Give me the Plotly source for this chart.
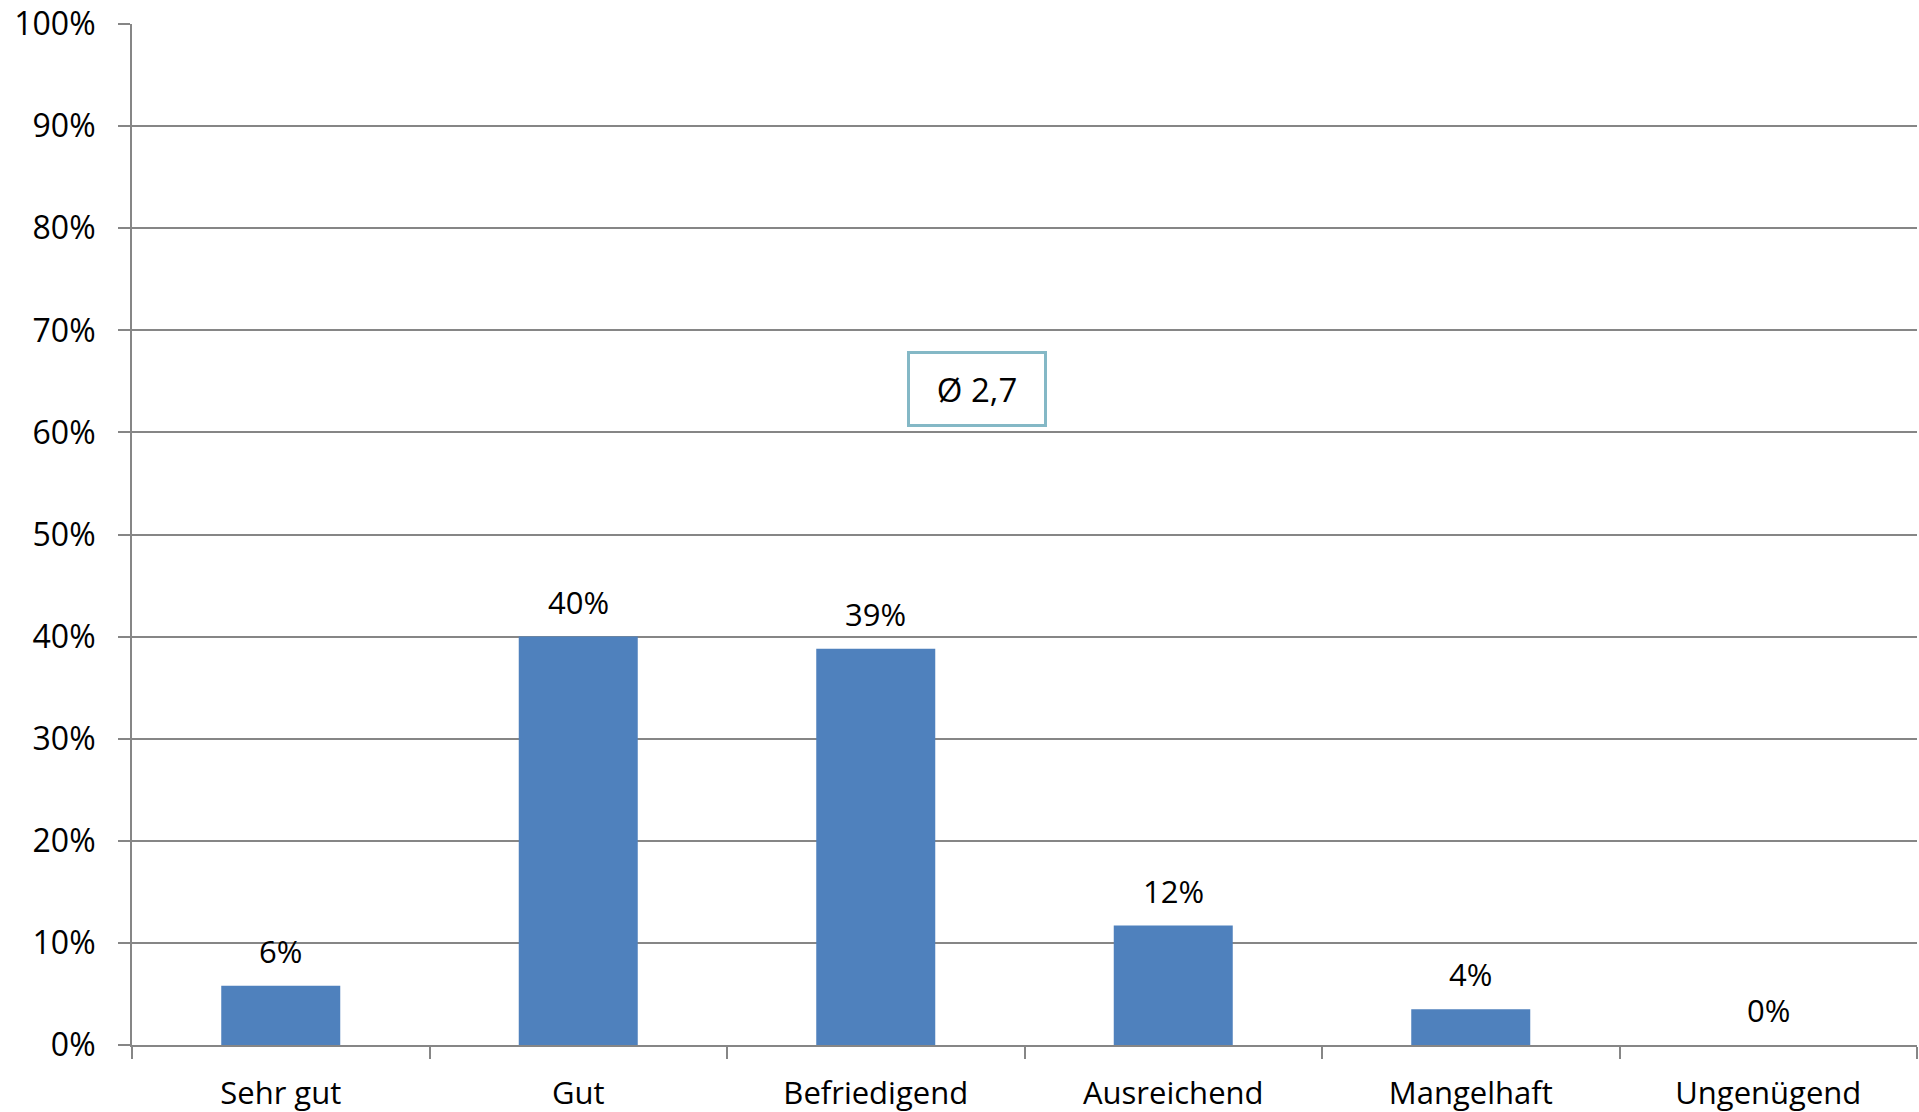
import plotly.graph_objects as go

categories = ["Sehr gut", "Gut", "Befriedigend", "Ausreichend", "Mangelhaft", "Ungenügend"]
values = [5.8, 40.0, 38.8, 11.7, 3.5, 0.0]
value_labels = ["6%", "40%", "39%", "12%", "4%", "0%"]
y_ticks = [0, 10, 20, 30, 40, 50, 60, 70, 80, 90, 100]
y_tick_labels = [f"{v}%" for v in y_ticks]
average_label = "Ø 2,7"
average_pos = (2.34, 64.3)

FONT = "Open Sans"
GRID = "#868686"
FS = 31

fig = go.Figure()
fig.add_trace(go.Bar(
    x=categories, y=values,
    marker=dict(color="#4F81BD", line=dict(width=0)),
    width=0.4, hoverinfo="skip",
))

for c, v, lab in zip(categories, values, value_labels):
    fig.add_annotation(x=c, y=v, text=lab, showarrow=False, yanchor="bottom",
                       yshift=12, font=dict(family=FONT, size=FS, color="#000000"))

fig.add_annotation(x=average_pos[0], y=average_pos[1], text=average_label, showarrow=False,
                   font=dict(family=FONT, size=33, color="#000000"),
                   bordercolor="#84B8C6", borderwidth=3, borderpad=10, bgcolor="white",
                   width=114, height=50)

fig.update_layout(
    width=1919, height=1112,
    margin=dict(l=132, r=2, t=24, b=67, autoexpand=False),
    paper_bgcolor="white", plot_bgcolor="white",
    showlegend=False,
    font=dict(family=FONT, size=FS, color="#000000"),
    xaxis=dict(
        type="category", range=[-0.5, 5.5], automargin=False,
        tickson="boundaries", ticks="outside", ticklen=12, tickwidth=2, tickcolor=GRID,
        showline=True, linecolor=GRID, linewidth=2, showgrid=False, zeroline=False,
        tickfont=dict(family=FONT, size=FS, color="#000000"),
        ticklabelstandoff=20,
    ),
    yaxis=dict(
        range=[0, 100], tickmode="array", tickvals=y_ticks, ticktext=y_tick_labels,
        automargin=False,
        ticks="outside", ticklen=12, tickwidth=2, tickcolor=GRID,
        showline=True, linecolor=GRID, linewidth=2,
        showgrid=True, gridcolor=GRID, gridwidth=2, zeroline=False,
        tickfont=dict(family=FONT, size=32, color="#000000"),
        ticklabelstandoff=16,
    ),
)

fig.write_html("out.html")
